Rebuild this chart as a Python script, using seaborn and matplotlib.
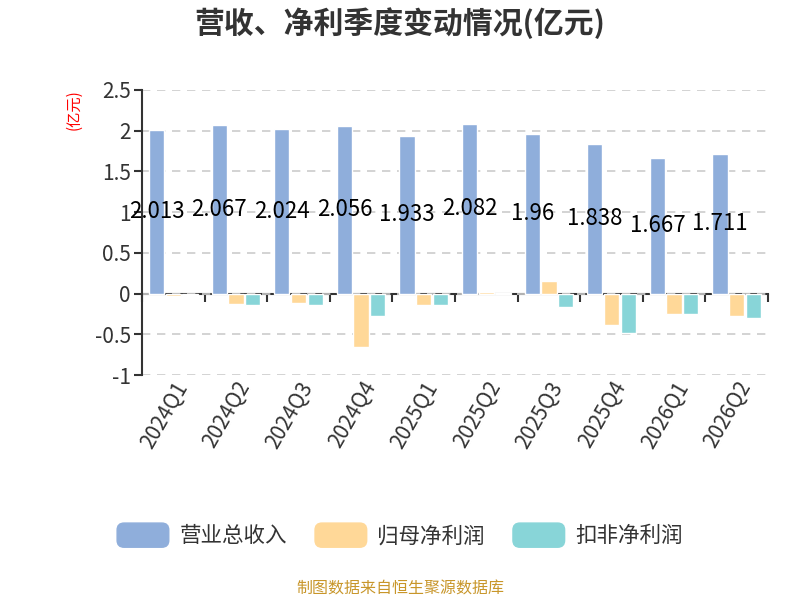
import pandas as pd
import matplotlib
matplotlib.use('Agg')
import matplotlib.pyplot as plt
import seaborn as sns
from matplotlib.patches import FancyBboxPatch
from matplotlib.legend_handler import HandlerPatch

# quarterly data (亿元)
quarters = ['2024Q1', '2024Q2', '2024Q3', '2024Q4', '2025Q1',
            '2025Q2', '2025Q3', '2025Q4', '2026Q1', '2026Q2']
revenue = [2.013, 2.067, 2.024, 2.056, 1.933, 2.082, 1.96, 1.838, 1.667, 1.711]
net_profit = [-0.03, -0.13, -0.12, -0.65, -0.135, 0.02, 0.16, -0.39, -0.245, -0.27]
deducted_profit = [-0.02, -0.14, -0.145, -0.28, -0.145, 0.01, -0.16, -0.48, -0.25, -0.30]
series_names = ['营业总收入', '归母净利润', '扣非净利润']
colors = ['#8FAEDB', '#FFD898', '#88D5D8']

df = pd.DataFrame({
    'quarter': quarters * 3,
    'value': revenue + net_profit + deducted_profit,
    'series': [series_names[0]] * 10 + [series_names[1]] * 10 + [series_names[2]] * 10,
})

sns.set_style('white')
plt.rcParams['font.family'] = ['Noto Sans CJK SC', 'DejaVu Sans']

fig = plt.figure(figsize=(8, 6), dpi=100)
ax = fig.add_axes([0.1775, 0.375, 0.7825, 0.475])

sns.barplot(data=df, x='quarter', y='value', hue='series', palette=colors,
            width=0.8, gap=0.08, ax=ax, legend=False, saturation=1)

# value labels on revenue bars
ax.bar_label(ax.containers[0], labels=[f'{v:g}' for v in revenue],
             label_type='center', fontsize=16, color='black')

ax.set_ylim(-1, 2.5)
ax.set_xlim(-0.5, 9.5)
ax.set_yticks([-1, -0.5, 0, 0.5, 1, 1.5, 2, 2.5])
ax.set_yticklabels(['-1', '-0.5', '0', '0.5', '1', '1.5', '2', '2.5'])
ax.yaxis.grid(True, linestyle=(0, (5, 4)), color='#cccccc', linewidth=1.2)
ax.set_axisbelow(True)
ax.tick_params(axis='y', labelsize=15, labelcolor='#333333', length=6,
               width=1.5, color='#333333', left=True, pad=2)
ax.tick_params(axis='x', length=0, labelsize=15, labelcolor='#333333', pad=2)
for lbl in ax.get_xticklabels():
    lbl.set_rotation(60)
    lbl.set_ha('right')
    lbl.set_rotation_mode('anchor')

for s in ['top', 'right', 'bottom']:
    ax.spines[s].set_visible(False)
ax.spines['left'].set_color('#333333')
ax.spines['left'].set_linewidth(1.5)

ax.set_xlabel('')
ax.set_ylabel('(亿元)', color='red', fontsize=11, labelpad=0)
ax.yaxis.set_label_coords(-0.095, 0.93)

# zero axis with boundary ticks
zero_ax = ax.secondary_xaxis(1 / 3.5)
zero_ax.set_xticks([i + 0.5 for i in range(-1, 10)])
zero_ax.set_xticklabels([])
zero_ax.tick_params(length=6, width=1.5, color='#333333', direction='out')
zero_ax.spines['bottom'].set_color('#333333')
zero_ax.spines['bottom'].set_linewidth(1.5)

fig.text(0.5, 0.962, '营收、净利季度变动情况(亿元)', ha='center', va='center',
         fontsize=21.5, fontweight='bold', color='#333333')


# legend with rounded keys
def rounded_key(legend, orig_handle, xdescent, ydescent, width, height, fontsize):
    return FancyBboxPatch((-xdescent, -ydescent), width, height,
                          boxstyle='round,pad=0,rounding_size=5')


handles = [FancyBboxPatch((0, 0), 1, 1, color=c) for c in colors]
fig.legend(handles, series_names, loc='center', bbox_to_anchor=(0.5, 0.108),
           ncol=3, frameon=False, fontsize=15.5, handlelength=2.4, handleheight=1.35,
           columnspacing=1.3, handletextpad=0.5, labelcolor='#333333',
           handler_map={FancyBboxPatch: HandlerPatch(patch_func=rounded_key)})

fig.text(0.5, 0.018, '制图数据来自恒生聚源数据库', ha='center', va='center',
         fontsize=11.5, color='#C8962A')

fig.savefig('out.png', dpi=100)
